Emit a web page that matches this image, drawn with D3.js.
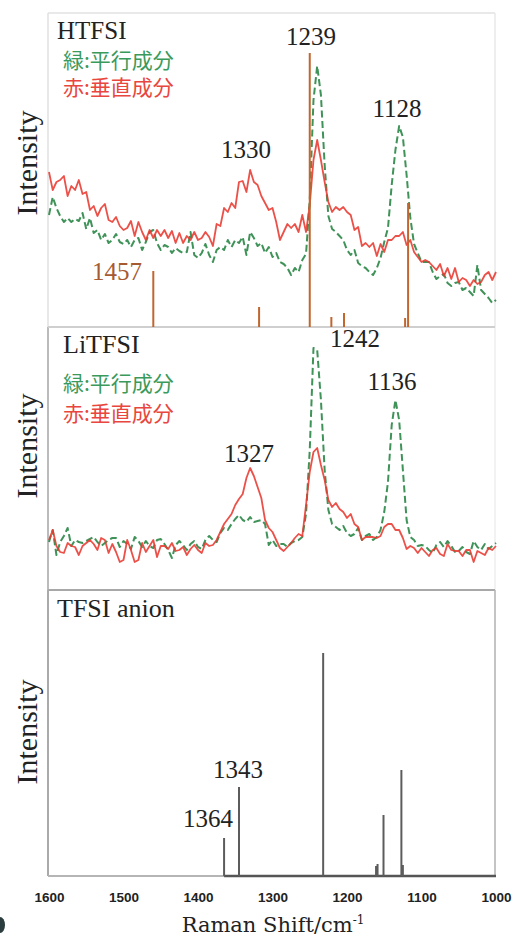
<!DOCTYPE html>
<meta charset="utf-8">

<style type="text/css">
body {
  margin: 0;
  background: #fff;
}
svg {
  display: block;
}
.serif {
  font-family: "Liberation Serif", "Times New Roman", serif;
  fill: #222;
}
.jp {
  font-family: "Noto Sans CJK JP", sans-serif;
  font-size: 21px;
}
.tick text {
  font-family: "Liberation Sans", Arial, sans-serif;
  font-weight: bold;
  font-size: 13.5px;
  fill: #222;
}
</style>

<body>
  <svg id="svg" width="514" height="938"></svg>
</body>

<script src="https://cdn.jsdelivr.net/npm/d3@7/dist/d3.min.js"></script>

<script>
  // Raman shift grid of the measured spectra (cm-1), 1600 -> 1000 every 5
  const shift = d3.range(1600, 999, -5);
  const tickValues = [1600, 1500, 1400, 1300, 1200, 1100, 1000];

  // HTFSI, parallel (green) and perpendicular (red) components
  const htfsiPar = [
    112,130,119,111,105,109,105,108,106,114,
    98,109,94,97,87,93,84,87,93,85,
    83,87,80,87,89,77,85,95,97,84,
    77,82,80,74,79,76,74,75,95,72,
    69,74,83,72,65,77,80,77,87,80,
    87,84,90,72,95,89,81,84,74,80,
    70,74,65,63,59,52,59,55,67,73,
    127,227,261,232,162,111,98,95,91,87,
    77,72,77,64,61,59,55,52,59,69,
    85,99,142,177,201,190,152,109,83,74,
    65,65,65,55,48,51,53,44,41,44,
    45,37,39,35,31,62,37,33,29,24,
    27];
  const htfsiPerp = [
    155,137,145,147,151,131,141,137,147,133,
    135,117,121,111,119,123,107,105,110,101,
    97,99,106,91,105,95,87,97,89,97,
    91,97,89,96,84,94,84,91,87,95,
    87,89,95,90,81,103,101,119,115,124,
    119,145,146,135,157,145,142,131,124,117,
    119,105,87,95,103,99,103,95,112,95,
    122,167,187,167,145,125,115,120,117,120,
    115,112,97,100,81,84,80,84,71,83,
    75,87,87,91,91,95,82,87,75,70,
    65,67,65,61,57,63,51,59,48,59,
    45,49,47,41,47,43,45,52,55,47,
    55];
  // HTFSI calculated lines (brown sticks)
  const htfsiCalcShift = [1460, 1318, 1250, 1221, 1204, 1122, 1118];
  const htfsiCalcInt = [56, 20, 274, 10, 14, 9, 124];

  // LiTFSI, parallel (green) and perpendicular (red) components
  const litfsiPar = [
    48,60,35,48,54,62,44,50,48,47,
    49,51,53,48,44,47,50,52,52,43,
    49,46,41,53,49,43,49,44,42,50,
    51,46,40,32,45,49,45,40,46,49,
    43,41,50,54,50,48,57,62,60,66,
    71,75,70,68,73,68,69,70,66,45,
    50,44,46,46,43,47,49,50,53,76,
    140,242,240,190,120,80,66,63,60,64,
    57,54,56,62,50,54,56,50,53,60,
    78,108,165,190,170,120,70,53,50,44,
    45,44,40,37,45,48,43,49,44,38,
    39,43,38,36,49,43,40,46,41,44,
    47];
  const litfsiPerp = [
    50,60,44,38,37,47,44,43,35,44,
    47,50,46,40,52,50,37,46,38,28,
    30,50,40,28,30,47,38,44,50,33,
    44,44,41,47,39,40,43,35,41,45,
    40,37,47,44,45,50,58,66,71,76,
    85,91,96,112,122,114,103,92,70,62,
    58,50,42,39,43,47,52,56,54,85,
    118,138,142,125,110,90,83,87,81,78,
    72,76,66,63,50,53,53,53,52,54,
    63,66,66,60,60,52,41,44,42,37,
    42,38,34,40,42,36,34,46,40,39,
    39,34,40,40,28,39,37,35,42,40,
    44];

  // TFSI anion calculated lines
  const anionShift = [1365, 1345, 1232, 1161, 1159, 1151, 1127, 1125];
  const anionInt = [38, 89, 223, 10, 12, 61, 106, 11];

  const svg = d3.select("#svg");

  const x = d3.scaleLinear().domain([1600, 1000]).range([49, 496]);
  const yTop = d3.scaleLinear().domain([0, 314]).range([327, 13]);
  const yMid = d3.scaleLinear().domain([0, 263]).range([590, 327]);
  const yBot = d3.scaleLinear().domain([0, 286]).range([876, 590]);

  const green = "#2a8646", red = "#e8392f", brown = "#c0662e";

  //Panel frames
  function hline(x1, x2, y, color, w) {
    svg.append("line").attr("x1", x1).attr("x2", x2).attr("y1", y).attr("y2", y)
      .attr("stroke", color).attr("stroke-width", w);
  }
  function vline(xx, y1, y2, color, w) {
    svg.append("line").attr("x1", xx).attr("x2", xx).attr("y1", y1).attr("y2", y2)
      .attr("stroke", color).attr("stroke-width", w);
  }
  hline(48, 495, 13, "#e2e2e2", 1.5);
  vline(48, 13, 327, "#e0e0e0", 1.5);
  vline(495, 13, 327, "#e8e8e8", 1.5);
  vline(48, 327, 590, "#bbb", 2);
  vline(495, 327, 590, "#eee", 1.5);
  hline(48, 495, 590, "#a8a8a8", 2);
  vline(48, 590, 876, "#aaa", 2);
  vline(495, 590, 876, "#b0b0b0", 1.5);
  hline(48, 496, 876, "#b5b5b5", 2);
  hline(48, 495, 327, "#cfcfcf", 2);

  //Draw a spectrum with a given y scale
  function spectrum(values, y, color, dashed) {
    const line = d3.line()
      .x((d, i) => x(shift[i]))
      .y(d => y(d));
    svg.append("path")
      .datum(values)
      .attr("fill", "none")
      .attr("stroke", color)
      .attr("stroke-width", dashed ? 2 : 1.8)
      .attr("stroke-opacity", dashed ? 0.9 : 0.88)
      .attr("stroke-dasharray", dashed ? "7,3.5" : null)
      .attr("stroke-linejoin", "round")
      .attr("d", line);
  }

  //Stick spectrum
  function sticks(pos, ints, y, color, w) {
    svg.append("g").selectAll("line")
      .data(pos)
      .enter().append("line")
        .attr("x1", d => x(d)).attr("x2", d => x(d))
        .attr("y1", y(0))
        .attr("y2", (d, i) => y(ints[i]))
        .attr("stroke", color)
        .attr("stroke-width", w);
  }

  // HTFSI panel
  spectrum(htfsiPar, yTop, green, true);
  spectrum(htfsiPerp, yTop, red, false);
  sticks(htfsiCalcShift, htfsiCalcInt, yTop, brown, 2);

  // LiTFSI panel
  spectrum(litfsiPar, yMid, green, true);
  spectrum(litfsiPerp, yMid, red, false);

  // TFSI anion panel
  hline(x(anionShift[0]), x(1000), yBot(0), "#555", 2.5);
  sticks(anionShift, anionInt, yBot, "#5c5c5c", 2);

  //Texts
  function label(t, xx, yy, size, anchor, color) {
    return svg.append("text").attr("class", "serif")
      .attr("x", xx).attr("y", yy)
      .attr("font-size", size)
      .attr("text-anchor", anchor || "start")
      .style("fill", color || "#222")
      .text(t);
  }
  label("HTFSI", 57, 39, 25);
  label("LiTFSI", 63, 353, 26);
  label("TFSI anion", 57, 617, 26);

  function legendText(t, yy, color) {
    svg.append("text").attr("class", "jp")
      .attr("x", 63).attr("y", yy)
      .attr("fill", color)
      .text(t);
  }
  legendText("緑:平行成分", 68, "#3a9a5c");
  legendText("赤:垂直成分", 95, "#e8463e");
  legendText("緑:平行成分", 391, "#3a9a5c");
  legendText("赤:垂直成分", 421, "#e8463e");

  label("1239", 311, 45, 25, "middle");
  label("1128", 397, 117, 25, "middle");
  label("1330", 246, 158, 25, "middle");
  label("1457", 117, 280, 25, "middle", "#a65a32");
  label("1242", 355, 347, 25, "middle");
  label("1136", 392, 390, 25, "middle");
  label("1327", 249, 462, 25, "middle");
  label("1343", 238, 778, 25, "middle");
  label("1364", 208, 827, 25, "middle");

  [163, 446, 732].forEach(c => {
    svg.append("text").attr("class", "serif")
      .attr("transform", "translate(37," + c + ")rotate(-90)")
      .attr("text-anchor", "middle")
      .attr("font-size", 30)
      .text("Intensity");
  });

  // X axis
  svg.append("g")
    .attr("transform", "translate(0,876)")
    .call(d3.axisBottom(x).tickValues(tickValues).tickSize(0).tickPadding(16).tickFormat(d3.format("d")))
    .call(g => g.select(".domain").remove());

  const xt = svg.append("text")
    .attr("x", 273).attr("y", 932)
    .attr("text-anchor", "middle")
    .style("font-family", "'DejaVu Serif', serif")
    .style("font-size", "21px")
    .attr("fill", "#222");
  xt.append("tspan").text("Raman Shift/cm");
  xt.append("tspan").attr("dy", -8).style("font-size", "12px").text("-1");

  // cropped mark at the lower left corner
  svg.append("ellipse").attr("cx", 0).attr("cy", 925).attr("rx", 5).attr("ry", 8).attr("fill", "#2b3d3f");
</script>
